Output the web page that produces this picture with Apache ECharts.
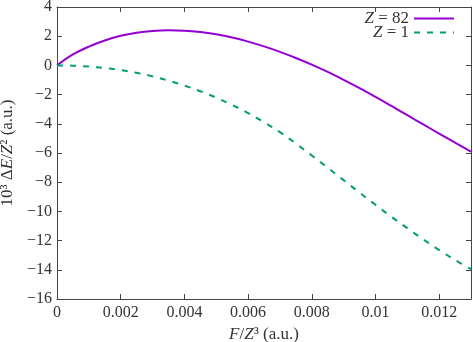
<!DOCTYPE html>
<html>
<head>
<meta charset="utf-8">
<script src="https://cdn.jsdelivr.net/npm/echarts@6/dist/echarts.min.js"></script>
<style>html,body{margin:0;padding:0;background:#fff}#c{width:473px;height:342px}</style>
</head>
<body>
<div id="c"></div>
<script>
var xValues = [0,0.0005,0.001,0.0015,0.002,0.0025,0.003,0.0035,0.004,0.0045,0.005,0.0055,0.006,0.0065,0.007,0.0075,0.008,0.0085,0.009,0.0095,0.01,0.0105,0.011,0.0115,0.012,0.0125,0.013];
var z82 = [0,0.75,1.29,1.71,2.03,2.24,2.36,2.40,2.38,2.29,2.13,1.91,1.63,1.30,0.93,0.51,0.05,-0.45,-0.99,-1.56,-2.16,-2.78,-3.41,-4.04,-4.67,-5.29,-5.91];
var z1 = [0,-0.02,-0.08,-0.18,-0.32,-0.51,-0.75,-1.04,-1.38,-1.77,-2.21,-2.71,-3.27,-3.89,-4.57,-5.35,-6.17,-7.01,-7.86,-8.71,-9.55,-10.37,-11.15,-11.92,-12.65,-13.33,-13.95];
var seriesNames = ['Z = 82', 'Z = 1'];
var xTicks = {min: 0, max: 0.013, interval: 0.002};
var yTicks = {min: -16, max: 4, interval: 2};

function pairs(xs, ys){ return xs.map(function(x,i){ return [x, ys[i]]; }); }
var FONT = 'Liberation Serif';
var TXT = '#333';
var AX = '#444';
function fmtX(v){ return parseFloat(v.toFixed(4)).toString(); }
function fmtY(v){ var s = Math.abs(Math.round(v)).toString(); return v < 0 ? '\u2212' + s : s; }
function legendFmt(name){ return '{i|Z}' + name.slice(1); }
var richI = {i: {fontStyle: 'italic', fontFamily: FONT, fontSize: 17, color: TXT}};
var richN = {i: {fontStyle: 'italic', fontFamily: FONT, fontSize: 17, color: TXT}};

var axisCommon = {
  axisLine: {show: true, onZero: false, lineStyle: {color: AX, width: 1}},
  axisTick: {show: true, inside: true, length: 5, lineStyle: {color: AX}},
  splitLine: {show: false}
};
function legendCfg(name, top){
  return {data: [name], right: 18, top: top, orient: 'vertical', align: 'right', itemWidth: 40, itemHeight: 10, itemGap: 0,
    itemStyle: {opacity: 0, borderWidth: 0},
    formatter: legendFmt, textStyle: {fontFamily: FONT, fontSize: 17, color: TXT, rich: richI}, padding: 0};
}

var chart = echarts.init(document.getElementById('c'));
chart.setOption({
  animation: false,
  backgroundColor: '#fff',
  grid: {left: 57, right: 2, top: 7, bottom: 43, containLabel: false, outerBoundsMode: 'none'},
  legend: [legendCfg(seriesNames[0], 10), legendCfg(seriesNames[1], 24)],
  xAxis: [
    Object.assign({type: 'value', min: xTicks.min, max: xTicks.max, interval: xTicks.interval, position: 'bottom',
      name: '{i|F}/{i|Z}\u00b3 (a.u.)', nameLocation: 'middle', nameGap: 27,
      nameTextStyle: {fontFamily: FONT, fontSize: 17, color: TXT, rich: richN},
      axisLabel: {fontFamily: FONT, fontSize: 16, color: TXT, margin: 6, showMaxLabel: false, formatter: fmtX}}, axisCommon),
    Object.assign({type: 'value', min: xTicks.min, max: xTicks.max, interval: xTicks.interval, position: 'top',
      axisLabel: {show: false}}, axisCommon)
  ],
  yAxis: [
    Object.assign({type: 'value', min: yTicks.min, max: yTicks.max, interval: yTicks.interval, position: 'left',
      name: '10\u00b3 \u0394{i|E}/{i|Z}\u00b2 (a.u.)', nameLocation: 'middle', nameGap: 40, nameRotate: 90,
      nameTextStyle: {fontFamily: FONT, fontSize: 17, color: TXT, rich: richN},
      axisLabel: {fontFamily: FONT, fontSize: 16, color: TXT, margin: 5, formatter: fmtY}}, axisCommon),
    Object.assign({type: 'value', min: yTicks.min, max: yTicks.max, interval: yTicks.interval, position: 'right',
      axisLabel: {show: false}}, axisCommon)
  ],
  series: [
    {name: seriesNames[0], type: 'line', data: pairs(xValues, z82), smooth: 0.4, showSymbol: false, symbol: 'none',
     itemStyle: {color: '#9400D3'}, lineStyle: {color: '#9400D3', width: 2}},
    {name: seriesNames[1], type: 'line', data: pairs(xValues, z1), smooth: 0.4, showSymbol: false, symbol: 'none',
     itemStyle: {color: '#009E73'}, lineStyle: {color: '#009E73', width: 2, type: [6, 7]}}
  ]
});
</script>
</body>
</html>
